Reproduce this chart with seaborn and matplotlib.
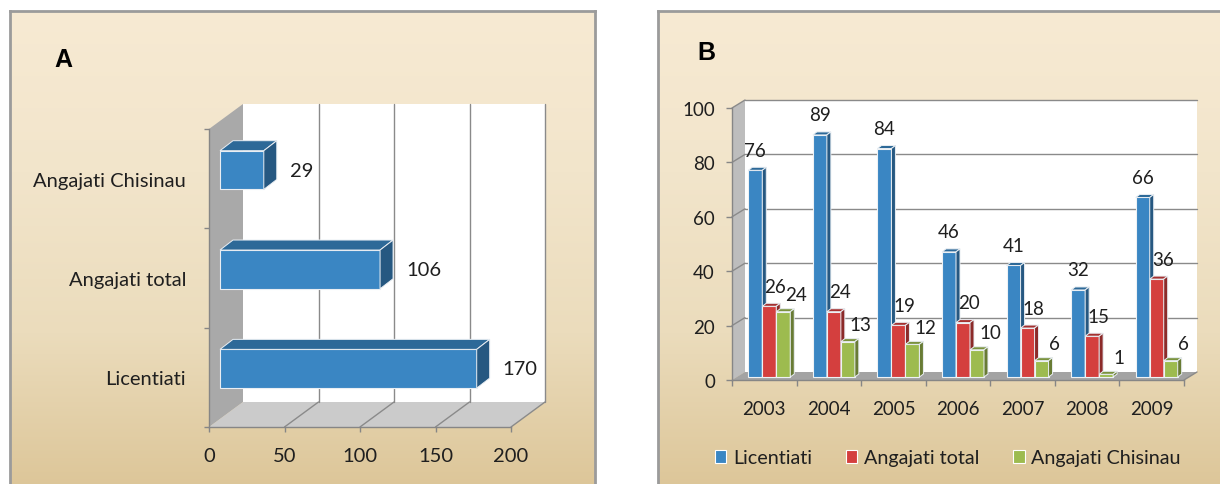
import numpy as np
import pandas as pd
import matplotlib
matplotlib.use("Agg")
import matplotlib.pyplot as plt
import seaborn as sns
from matplotlib.patches import Polygon, Rectangle
from matplotlib.lines import Line2D
from matplotlib.transforms import Affine2D, IdentityTransform
from matplotlib.colors import LinearSegmentedColormap, to_rgb

# Panel A: totals per group
groups_a = ["Angajati Chisinau", "Angajati total", "Licentiati"]
totals_a = [29, 106, 170]
xticks_a = [0, 50, 100, 150, 200]

# Panel B: yearly counts per series
years = ["2003", "2004", "2005", "2006", "2007", "2008", "2009"]
licentiati = [76, 89, 84, 46, 41, 32, 66]
angajati_total = [26, 24, 19, 20, 18, 15, 36]
angajati_chisinau = [24, 13, 12, 10, 6, 1, 6]
series_names = ["Licentiati", "Angajati total", "Angajati Chisinau"]
series_colors = ["#3a86c3", "#d43f3e", "#9dbb4f"]
yticks_b = [0, 20, 40, 60, 80, 100]

W, H = 1220, 485
sns.set_theme(style="ticks")
plt.rcParams["font.family"] = ["Lato", "DejaVu Sans"]
TXT = "#1f1f1f"
AXC = "#868686"
GRID = "#8a8a8a"
FS_A = 14.5
FS_B = 13.5

fig = plt.figure(figsize=(W / 100, H / 100), dpi=100)
fig.patch.set_facecolor("white")


def px_axes(left, top, right, bottom, **kw):
    return fig.add_axes([left / W, (H - bottom) / H, (right - left) / W, (bottom - top) / H], **kw)


def shade(color, f):
    r, g, b = to_rgb(color)
    return (r * f, g * f, b * f)


grad = LinearSegmentedColormap.from_list(
    "panel", ["#f7ead3", "#f2e5cb", "#ebdcbc", "#dcc597"])


def panel(left, top, right, bottom, right_border=True):
    bg = px_axes(left, top, right, bottom, zorder=0)
    bg.imshow(np.linspace(0, 1, 256).reshape(-1, 1), aspect="auto", cmap=grad,
              extent=(0, 1, 0, 1), origin="upper")
    bg.set_xticks([])
    bg.set_yticks([])
    for name, sp in bg.spines.items():
        sp.set_color("#9b9b9b")
        sp.set_linewidth(2)
    bg.spines["bottom"].set_visible(False)
    if not right_border:
        bg.spines["right"].set_visible(False)
    return bg


panel(10, 12, 595, 495)
panel(658, 12, 1230, 495, right_border=False)


def add_poly(ax, pts, color, z, ec="none", lw=0):
    p = Polygon(pts, closed=True, facecolor=color, edgecolor=ec, linewidth=lw,
                transform=IdentityTransform(), clip_on=False, zorder=z)
    ax.add_artist(p)


def add_line(ax, xs, ys, z=0.6, color=GRID, lw=1.0):
    ln = Line2D(xs, ys, color=color, linewidth=lw, transform=IdentityTransform(),
                clip_on=False, zorder=z)
    ax.add_artist(ln)


def bar_faces(ax, patch, shift, depth, color, z):
    """Top and side faces of a bar whose front face is shifted by `shift` pixels."""
    x, y, w, h = patch.get_x(), patch.get_y(), patch.get_width(), patch.get_height()
    (ax0, ay0), (ax1, ay1) = ax.transData.transform([(x, y), (x + w, y + h)])
    x0, x1 = sorted((ax0, ax1))
    y0, y1 = sorted((ay0, ay1))
    x0 += shift[0]; x1 += shift[0]; y0 += shift[1]; y1 += shift[1]
    dx, dy = depth
    top = [(x0, y1), (x1, y1), (x1 + dx, y1 + dy), (x0 + dx, y1 + dy)]
    side = [(x1, y0), (x1, y1), (x1 + dx, y1 + dy), (x1 + dx, y0 + dy)]
    add_poly(ax, top, shade(color, 0.78), z, ec="#e9eef3", lw=0.7)
    add_poly(ax, side, shade(color, 0.66), z, ec="#e9eef3", lw=0.7)


# ---------------- Panel A ----------------
axA = px_axes(209, 130, 511, 428, zorder=1)
axA.set_facecolor("none")
dfA = pd.DataFrame({"grupa": groups_a, "total": totals_a})
sns.barplot(data=dfA, x="total", y="grupa", order=groups_a, orient="h", width=0.39,
            color=series_colors[0], saturation=1, errorbar=None, ax=axA,
            edgecolor="#e9eef3", linewidth=0.8, zorder=2)
axA.set_xlim(0, 200)
axA.set_ylim(2.5, -0.5)
axA.set_xlabel("")
axA.set_ylabel("")
bars_a = list(axA.containers[0].patches)

DA = (34, 25)   # depth of the back wall
SA = (11, 8.6)  # bars sit partway into the depth
BA = (13, 10)   # bar thickness
(fx0, fy0), (fx1, fy1) = axA.transData.transform([(0, 2.5), (200, -0.5)])
add_poly(axA, [(fx0, fy0), (fx0, fy1), (fx0 + DA[0], fy1 + DA[1]), (fx0 + DA[0], fy0 + DA[1])], "#a9a9a9", 0.3)
add_poly(axA, [(fx0 + DA[0], fy0 + DA[1]), (fx1 + DA[0], fy0 + DA[1]),
               (fx1 + DA[0], fy1 + DA[1]), (fx0 + DA[0], fy1 + DA[1])], "white", 0.3)
add_poly(axA, [(fx0, fy0), (fx1, fy0), (fx1 + DA[0], fy0 + DA[1]), (fx0 + DA[0], fy0 + DA[1])], "#cbcbcb", 0.3)
for v in xticks_a[1:]:
    gx = axA.transData.transform((v, 0))[0]
    add_line(axA, [gx + DA[0], gx + DA[0]], [fy0 + DA[1], fy1 + DA[1]])
    add_line(axA, [gx, gx + DA[0]], [fy0, fy0 + DA[1]])

for patch in bars_a:
    patch.set_transform(axA.transData + Affine2D().translate(*SA))
    bar_faces(axA, patch, SA, BA, series_colors[0], 2)

for i, v in enumerate(totals_a):
    axA.annotate(f"{v}", xy=(v, i), xytext=(37, SA[1]), textcoords="offset pixels",
                 ha="left", va="center", fontsize=FS_A, color=TXT, zorder=5,
                 annotation_clip=False)

for s in ("top", "right"):
    axA.spines[s].set_visible(False)
for s in ("left", "bottom"):
    axA.spines[s].set_color(AXC)
    axA.spines[s].set_linewidth(1.0)
    axA.spines[s].set_zorder(1)
axA.set_xticks(xticks_a)
axA.set_xticklabels([str(t) for t in xticks_a])
axA.set_yticks([-0.5, 0.5, 1.5, 2.5])
axA.set_yticklabels([])
axA.set_yticks([0, 1, 2], minor=True)
axA.set_yticklabels(groups_a, minor=True)
axA.tick_params(axis="both", which="major", length=3.6, width=1, color=AXC,
                labelsize=FS_A, labelcolor=TXT)
axA.tick_params(axis="x", which="major", pad=11)
axA.tick_params(axis="y", which="minor", length=0, pad=16.5, labelsize=FS_A, labelcolor=TXT)
axA.tick_params(axis="x", which="minor", length=0)

# ---------------- Panel B ----------------
axB = px_axes(732, 109, 1184, 381, zorder=1)
axB.set_facecolor("none")
dfB = pd.DataFrame({
    "an": years * 3,
    "serie": np.repeat(series_names, len(years)),
    "valoare": licentiati + angajati_total + angajati_chisinau,
})
sns.barplot(data=dfB, x="an", y="valoare", hue="serie", order=years, hue_order=series_names,
            palette=series_colors, width=0.65, gap=0, saturation=1, errorbar=None,
            legend=False, ax=axB, edgecolor="#eef2f5", linewidth=0.8)
axB.set_xlim(-0.5, len(years) - 0.5)
axB.set_ylim(0, 100)
axB.set_xlabel("")
axB.set_ylabel("")
bars_b = [list(c.patches) for c in axB.containers]

DB = (13, 8)
SB = (5, 3)
BB = (4, 3)
(gx0, gy0), (gx1, gy1) = axB.transData.transform([(-0.5, 0), (len(years) - 0.5, 100)])
add_poly(axB, [(gx0, gy0), (gx0, gy1), (gx0 + DB[0], gy1 + DB[1]), (gx0 + DB[0], gy0 + DB[1])], "#bdbdbd", 0.3)
add_poly(axB, [(gx0 + DB[0], gy0 + DB[1]), (gx1 + DB[0], gy0 + DB[1]),
               (gx1 + DB[0], gy1 + DB[1]), (gx0 + DB[0], gy1 + DB[1])], "white", 0.3)
add_poly(axB, [(gx0, gy0), (gx1, gy0), (gx1 + DB[0], gy0 + DB[1]), (gx0 + DB[0], gy0 + DB[1])], "#a3a3a3", 0.3)
for v in yticks_b[1:]:
    gy = axB.transData.transform((0, v))[1]
    add_line(axB, [gx0 + DB[0], gx1 + DB[0]], [gy + DB[1], gy + DB[1]])
    add_line(axB, [gx0, gx0 + DB[0]], [gy, gy + DB[1]])
add_line(axB, [gx1, gx1 + DB[0]], [gy0, gy0 + DB[1]])

values_b = [licentiati, angajati_total, angajati_chisinau]
label_dx = [0, 6, 13]
label_dy = [20, 20, 17]
for k, patches in enumerate(bars_b):
    for i, patch in enumerate(patches):
        z = 2 + 0.1 * k
        patch.set_zorder(z)
        patch.set_transform(axB.transData + Affine2D().translate(*SB))
        bar_faces(axB, patch, SB, BB, series_colors[k], z)
        v = values_b[k][i]
        cx = patch.get_x() + patch.get_width() / 2
        axB.annotate(f"{v}", xy=(cx, v), xytext=(SB[0] + label_dx[k], SB[1] + label_dy[k]),
                     textcoords="offset pixels", ha="center", va="center",
                     fontsize=FS_B, color=TXT, zorder=5, annotation_clip=False)

for s in ("top", "right"):
    axB.spines[s].set_visible(False)
for s in ("left", "bottom"):
    axB.spines[s].set_color(AXC)
    axB.spines[s].set_linewidth(1.0)
    axB.spines[s].set_zorder(1)
axB.set_yticks(yticks_b)
axB.set_yticklabels([str(t) for t in yticks_b])
axB.set_xticks(np.arange(len(years) + 1) - 0.5)
axB.set_xticklabels([])
axB.set_xticks(np.arange(len(years)), minor=True)
axB.set_xticklabels(years, minor=True)
axB.tick_params(axis="both", which="major", length=4.3, width=1, color=AXC,
                labelsize=FS_B, labelcolor=TXT)
axB.tick_params(axis="y", which="major", pad=8.0)
axB.tick_params(axis="x", which="minor", length=0, pad=14.5, labelsize=FS_B, labelcolor=TXT)
axB.tick_params(axis="y", which="minor", length=0)

handles = [Rectangle((0, 0), 1, 1, facecolor=c, edgecolor="white", linewidth=0.8)
           for c in series_colors]
fig.legend(handles, series_names, loc="center", bbox_to_anchor=(948 / W, (H - 459) / H),
           ncol=3, frameon=False, handlelength=0.58, handleheight=0.58, handletextpad=0.35,
           columnspacing=1.7, fontsize=14.2, labelcolor=TXT)

fig.text(63 / W, 1 - 60 / H, "A", fontsize=18, fontweight="bold", ha="center", va="center",
         family=["Liberation Sans", "DejaVu Sans"], color="black")
fig.text(706 / W, 1 - 53 / H, "B", fontsize=18, fontweight="bold", ha="center", va="center",
         family=["Liberation Sans", "DejaVu Sans"], color="black")

fig.savefig("out.png", dpi=100)
